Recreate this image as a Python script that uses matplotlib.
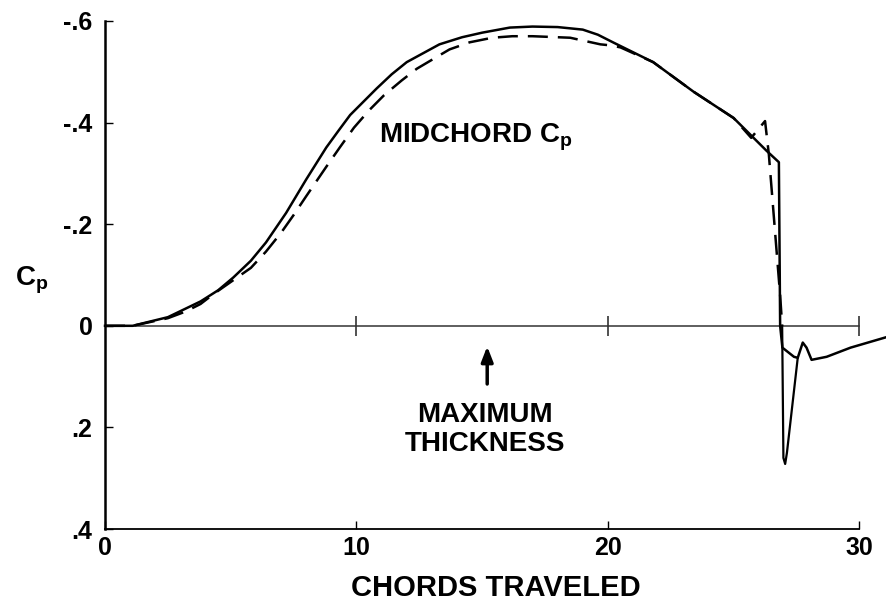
import numpy as np
import matplotlib
matplotlib.use("Agg")
import matplotlib.pyplot as plt

plt.rcParams['font.family'] = ['Liberation Sans', 'DejaVu Sans']
plt.rcParams['font.weight'] = 'bold'
plt.rcParams['mathtext.fontset'] = 'custom'
plt.rcParams['mathtext.rm'] = 'Liberation Sans:bold'
plt.rcParams['mathtext.bf'] = 'Liberation Sans:bold'

# solid curve (chords traveled, Cp)
solid_x = [0, 1.1, 2.5, 3.8, 4.5, 5.1, 5.8, 6.4, 7.2, 7.6, 8.0, 8.8, 9.3,
           9.75, 10.8, 11.4, 12.0, 13.3, 14.2, 15.0, 16.1, 17.0, 18.0, 19.0,
           19.6, 20.2, 21.8, 23.4, 25.0, 26.3, 26.8,
           26.85, 26.94, 27.4, 27.55, 27.75, 27.9, 28.1, 28.7, 29.65, 31.1]
solid_y = [0, 0, -0.017, -0.048, -0.07, -0.095, -0.128, -0.164, -0.222,
           -0.255, -0.288, -0.351, -0.385, -0.415, -0.467, -0.495, -0.519,
           -0.554, -0.568, -0.577, -0.587, -0.589, -0.588, -0.583, -0.573,
           -0.558, -0.519, -0.461, -0.409, -0.345, -0.322,
           0.0, 0.043, 0.061, 0.063, 0.033, 0.043, 0.067, 0.061, 0.043, 0.022]

# dashed curve
dash_x = [0, 1.1, 2.5, 3.2, 3.8, 4.3, 5.8, 6.4, 7.0, 7.5, 8.0, 8.8, 9.35,
          9.9, 10.5, 11.1, 11.8, 12.4, 13.7, 14.5, 15.4, 16.2, 17.0, 18.5,
          19.7, 20.1, 20.5, 21.8, 23.4, 25.0, 25.7, 26.25, 26.4, 26.85, 26.93]
dash_y = [0, 0, -0.015, -0.028, -0.043, -0.062, -0.114, -0.146, -0.183,
          -0.218, -0.255, -0.313, -0.352, -0.39, -0.424, -0.454, -0.483,
          -0.506, -0.544, -0.558, -0.567, -0.57, -0.57, -0.567, -0.554,
          -0.552, -0.548, -0.519, -0.461, -0.409, -0.37, -0.403, -0.338,
          -0.06, 0.0]

# overshoot spike after the dashed curve crosses zero
spike_x = [26.93, 26.98, 27.05, 27.12, 27.55]
spike_y = [0.0, 0.26, 0.272, 0.25, 0.063]

xticks = [0, 10, 20, 30]
yticks = [-0.6, -0.4, -0.2, 0, 0.2, 0.4]
ytick_labels = ['-.6', '-.4', '-.2', '0', '.2', '.4']


def main():
    fig = plt.figure(figsize=(8.87, 6.08), dpi=100)
    ax = fig.add_axes([0.1184, 0.1299, 0.8816, 0.8356])

    ax.set_xlim(0, 31.1)
    ax.set_ylim(0.4, -0.6)

    # zero line with cross ticks
    ax.plot([0, 30], [0, 0], color='#333333', lw=1.1)
    ax.plot([10, 20, 30], [0, 0, 0], ls='none', marker='|', ms=14,
            mew=1.2, color='#333333')

    ax.plot(solid_x, solid_y, color='black', lw=1.8, clip_on=False)
    ax.plot(dash_x, dash_y, color='black', lw=1.8, dashes=(8, 4))
    ax.plot(spike_x, spike_y, color='black', lw=1.6)

    for s in ['top', 'right']:
        ax.spines[s].set_visible(False)
    ax.spines['left'].set_bounds(0.4, -0.6)
    ax.spines['bottom'].set_bounds(0, 30)
    ax.spines['left'].set_linewidth(1.8)
    ax.spines['bottom'].set_linewidth(1.3)

    ax.set_xticks(xticks)
    ax.set_yticks(yticks)
    ax.set_yticklabels(ytick_labels)
    ax.tick_params(direction='in', length=6, width=1.0, labelsize=18, pad=9)
    ax.tick_params(axis='x', pad=5)

    ax.set_xlabel('CHORDS TRAVELED', fontsize=21, fontweight='bold', labelpad=10)
    ax.text(-2.9, -0.09, r'C$_\mathrm{p}$', fontsize=20, ha='center',
            va='center')

    ax.text(10.9, -0.361, r'MIDCHORD C$_\mathrm{p}$', fontsize=20,
            ha='left', va='baseline')

    ax.annotate('', xy=(15.2, 0.035), xytext=(15.2, 0.12),
                arrowprops=dict(arrowstyle='-|>,head_width=0.35,head_length=0.9',
                                color='black', lw=2.5))
    ax.text(15.1, 0.205, 'MAXIMUM\nTHICKNESS', fontsize=20, ha='center',
            va='center', linespacing=1.15)

    fig.savefig('out.png', dpi=100)


if __name__ == "__main__":
    main()
